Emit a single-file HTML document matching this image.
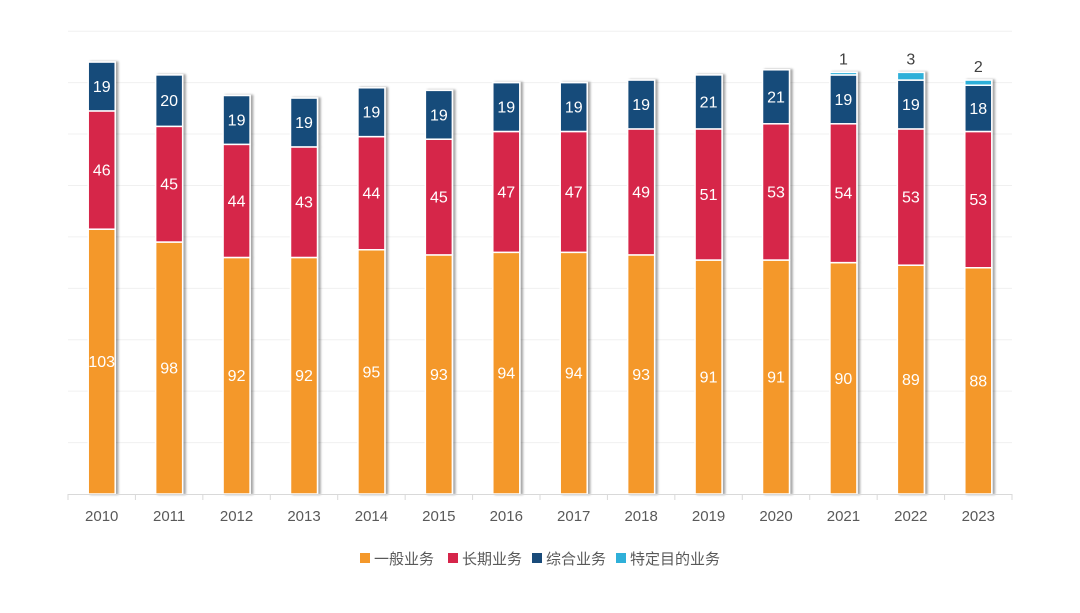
<!DOCTYPE html>
<html><head><meta charset="utf-8"><style>
body{margin:0;background:#fff;}
svg text{font-family:"Liberation Sans","Noto Sans CJK SC",sans-serif;}
</style></head><body>
<svg id="chart" width="1080" height="608" xmlns="http://www.w3.org/2000/svg">
<defs><filter id="sh" x="-20%" y="-5%" width="150%" height="110%"><feDropShadow dx="2.5" dy="0" stdDeviation="1" flood-color="#000" flood-opacity="0.35"/></filter></defs>
<g id="grid"></g><g id="bars"></g><g id="axis"></g>
<g id="legend"></g>
</svg>
<script>
const years=["2010","2011","2012","2013","2014","2015","2016","2017","2018","2019","2020","2021","2022","2023"];
const general=[103,98,92,92,95,93,94,94,93,91,91,90,89,88];
const longterm=[46,45,44,43,44,45,47,47,49,51,53,54,53,53];
const combined=[19,20,19,19,19,19,19,19,19,21,21,19,19,18];
const special=[0,0,0,0,0,0,0,0,0,0,0,1,3,2];
const seriesNames=["一般业务","长期业务","综合业务","特定目的业务"];
const colors=["#f4982a","#d6254a","#194b7a","#2fb0d9"];
const ns="http://www.w3.org/2000/svg";
const x0=68,x1=1012,y0=494,pxPerUnit=2.571;
const step=(x1-x0)/years.length,bw=27;
const X=i=>x0+step*(i+0.5);
const Y=v=>y0-v*pxPerUnit;
function mk(t,a,p){const e=document.createElementNS(ns,t);for(const k in a)e.setAttribute(k,a[k]);(p||document.getElementById('chart')).appendChild(e);return e;}
const grid=document.getElementById('grid');
for(let v=20;v<=180;v+=20){const g=mk('line',{x1:x0,x2:x1,y1:Y(v),y2:Y(v),stroke:'#f0f0f0','stroke-width':1},grid);

}
const ax=document.getElementById('axis');
const base=mk('line',{x1:x0,x2:x1,y1:y0+0.5,y2:y0+0.5,stroke:'#d9d9d9'},ax);


for(let i=0;i<=years.length;i++){const t=mk('line',{x1:x0+step*i,x2:x0+step*i,y1:y0,y2:y0+6,stroke:'#d9d9d9'},ax);

}
years.forEach((y,i)=>{const t=mk('text',{x:X(i),y:521,'text-anchor':'middle','font-size':15,fill:'#595959'},ax);t.textContent=y;

});
const bars=document.getElementById('bars');
const series=[general,longterm,combined,special];
years.forEach((yr,i)=>{
 const g=mk('g',{filter:'url(#sh)'},bars);
 
 
 let cum=0;
 series.forEach((s,k)=>{const v=s[i];if(!v)return;
  const yt=Y(cum+v),yb=Y(cum);
  const r=mk('rect',{x:X(i)-bw/2,y:yt,width:bw,height:yb-yt,fill:colors[k],stroke:'#fff','stroke-width':1.5},g);
  
  
  cum+=v;});
 cum=0;
 series.forEach((s,k)=>{const v=s[i];if(!v)return;
  const yt=Y(cum+v),yb=Y(cum);
  const inside=k<3;
  const t=mk('text',{x:X(i),y:inside?(yt+yb)/2+5.5:yt-8,'text-anchor':'middle','font-size':16,fill:inside?'#fff':'#404040'},bars);
  t.textContent=v;
  
  
  cum+=v;});
});
const lg=document.getElementById('legend');
const lx=[360,448,532,616];
seriesNames.forEach((n,k)=>{
 const r=mk('rect',{x:lx[k],y:553,width:10,height:10,fill:colors[k]},lg);
 
 
 const t=mk('text',{x:lx[k]+14,y:564,'font-size':15,fill:'#595959'},lg);t.textContent=n;
 
 
});
</script>
</body></html>
